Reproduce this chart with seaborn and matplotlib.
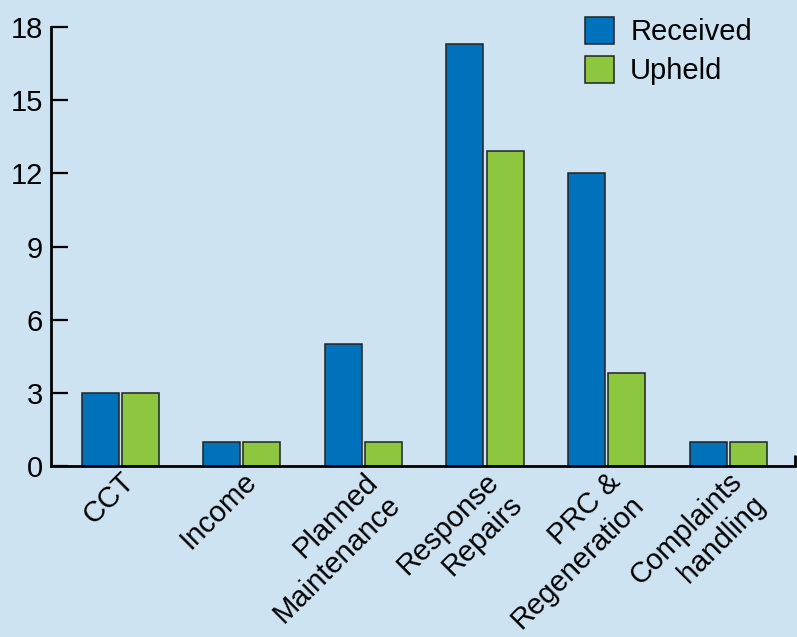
import matplotlib
matplotlib.use("Agg")
import matplotlib.pyplot as plt
import seaborn as sns
import pandas as pd

categories = ["CCT", "Income", "Planned\nMaintenance", "Response\nRepairs",
              "PRC &\nRegeneration", "Complaints\nhandling"]
received = [3, 1, 5, 17.3, 12, 1]
upheld = [3, 1, 1, 12.9, 3.8, 1]
series_names = ["Received", "Upheld"]
y_ticks = [0, 3, 6, 9, 12, 15, 18]

bg = "#cde3f1"
palette = {"Received": "#0072bc", "Upheld": "#8dc63f"}

sns.set_theme(style="white")
plt.rcParams["font.family"] = ["Liberation Sans", "DejaVu Sans"]
plt.rcParams["text.color"] = "black"
plt.rcParams["xtick.color"] = "black"
plt.rcParams["ytick.color"] = "black"

df = pd.DataFrame({
    "category": categories * 2,
    "series": [series_names[0]] * len(categories) + [series_names[1]] * len(categories),
    "value": received + upheld,
})

fig = plt.figure(figsize=(7.97, 6.37), dpi=100, facecolor=bg)
ax = fig.add_axes([51 / 797, 1 - 466 / 637, (795 - 51) / 797, (466 - 27) / 637])
ax.set_facecolor(bg)

sns.barplot(data=df, x="category", y="value", hue="series", order=categories,
            hue_order=series_names, palette=palette, width=0.66, gap=0.08,
            edgecolor="#222222", linewidth=1.1, saturation=1, ax=ax)

ax.set_xlim(-0.57, 5.55)
ax.set_ylim(0, 18)
ax.set_yticks(y_ticks)
ax.set_yticklabels([str(t) for t in y_ticks], fontsize=21)
ax.set_xlabel("")
ax.set_ylabel("")

for s in ["top", "right"]:
    ax.spines[s].set_visible(False)
for s in ["left", "bottom"]:
    ax.spines[s].set_color("black")
    ax.spines[s].set_linewidth(2)

ax.tick_params(axis="y", direction="in", length=12, width=1.6, color="black",
               labelcolor="black", pad=6, left=True)
ax.tick_params(axis="x", length=0, pad=1, labelcolor="black")
ax.set_xticks(range(len(categories)))
ax.set_xticklabels(categories, rotation=45, ha="right", va="top",
                   rotation_mode="anchor", multialignment="right", fontsize=21,
                   linespacing=1.2)

# closing tick at the right end of the category axis
ax.set_xticks([5.55], minor=True)
ax.tick_params(axis="x", which="minor", direction="in", length=8, width=2,
               color="black", bottom=True)

leg = ax.legend(loc="upper left", bbox_to_anchor=(585 / 797, 1 - 17 / 637),
                bbox_transform=fig.transFigure, borderaxespad=0, borderpad=0,
                frameon=False, fontsize=21, handlelength=1.0, handleheight=1.05,
                handletextpad=0.55, labelspacing=0.32)
for t in leg.get_texts():
    t.set_color("black")

fig.savefig("out.png", dpi=100, facecolor=bg)
